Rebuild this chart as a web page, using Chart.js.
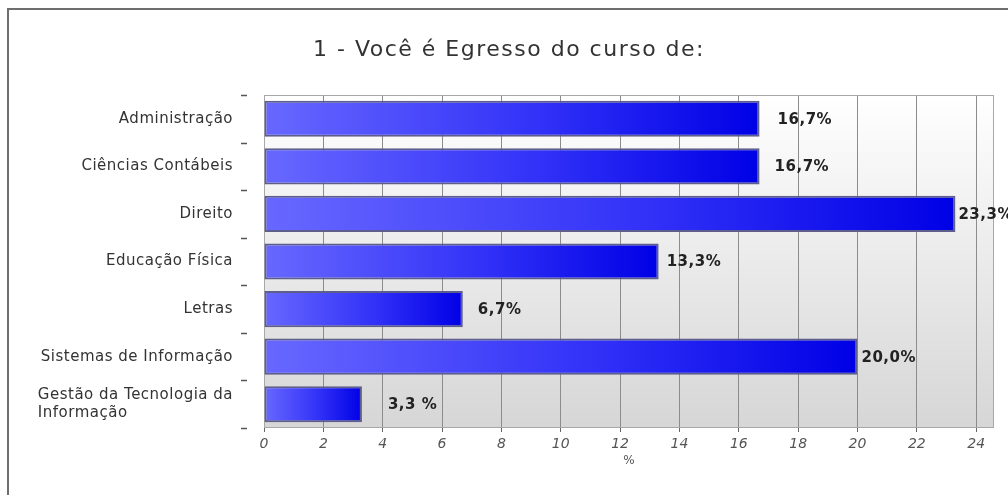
<!DOCTYPE html>
<html lang="pt-BR">
<head>
    <meta charset="UTF-8">
    <title>1 - Você é Egresso do curso de:</title>
    <script src="https://cdn.jsdelivr.net/npm/chart.js"></script>
    <style>
        html, body {
            margin: 0;
            padding: 0;
            background: #fff;
        }
        #wrap {
            width: 1008px;
            height: 495px;
        }
    </style>
</head>
<body>
    <div id="wrap"><canvas id="grafico"></canvas></div>

    <script>
        const tituloGrafico = '1 - Você é Egresso do curso de:';
        const cursos = [
            'Administração',
            'Ciências Contábeis',
            'Direito',
            'Educação Física',
            'Letras',
            'Sistemas de Informação',
            ['Gestão da Tecnologia da', 'Informação']
        ];
        const percentuais = [16.7, 16.7, 23.3, 13.3, 6.7, 20.0, 3.3];
        const rotulosValor = ['16,7%', '16,7%', '23,3%', '13,3%', '6,7%', '20,0%', '3,3 %'];
        const ticksX = [0, 2, 4, 6, 8, 10, 12, 14, 16, 18, 20, 22, 24];

        // distancia (px) entre o fim da barra e o rotulo, como no original
        const folgaRotulo = [18, 15, 3, 8, 15, 4, 26];

        // fundo em degrade + moldura externa + titulo
        const fundoPlugin = {
            id: 'fundo',
            beforeDraw(chart) {
                const { ctx, chartArea: a } = chart;
                ctx.save();
                // moldura externa
                ctx.strokeStyle = '#6e6e6e';
                ctx.lineWidth = 2;
                ctx.beginPath();
                ctx.moveTo(8, 495);
                ctx.lineTo(8, 9);
                ctx.lineTo(1008, 9);
                ctx.stroke();

                const g = ctx.createLinearGradient(0, a.top, 0, a.bottom);
                g.addColorStop(0, '#ffffff');
                g.addColorStop(1, '#d6d6d6');
                ctx.fillStyle = g;
                ctx.fillRect(a.left, a.top, a.right - a.left, a.bottom - a.top);

                // titulo
                ctx.fillStyle = '#333';
                ctx.font = '22px "DejaVu Sans"';
                ctx.letterSpacing = '1.5px';
                ctx.textAlign = 'center';
                ctx.textBaseline = 'middle';
                ctx.fillText(tituloGrafico, 509, 50);
                ctx.restore();
            },
            beforeDatasetsDraw(chart) {
                const { ctx, chartArea: a } = chart;
                ctx.save();
                ctx.strokeStyle = '#a8a8a8';
                ctx.lineWidth = 1;
                ctx.strokeRect(a.left + 0.5, a.top + 0.5, a.right - a.left - 1, a.bottom - a.top - 1);
                ctx.restore();
            }
        };

        // rotulos do eixo Y, tracinhos e valores das barras
        const rotulosPlugin = {
            id: 'rotulos',
            afterDatasetsDraw(chart) {
                const { ctx, chartArea: a } = chart;
                const y = chart.scales.y;
                const x = chart.scales.x;
                const passo = (a.bottom - a.top) / cursos.length;
                ctx.save();

                // tracinhos
                ctx.strokeStyle = '#555';
                ctx.lineWidth = 1.5;
                for (let i = 0; i <= cursos.length; i++) {
                    const yy = Math.round(a.top + i * passo) + 0.5;
                    ctx.beginPath();
                    ctx.moveTo(241, yy);
                    ctx.lineTo(247, yy);
                    ctx.stroke();
                }

                // nomes dos cursos
                ctx.fillStyle = '#333';
                ctx.font = '15px "DejaVu Sans"';
                ctx.letterSpacing = '0.5px';
                ctx.textBaseline = 'middle';
                cursos.forEach((c, i) => {
                    const yc = y.getPixelForValue(i);
                    if (Array.isArray(c)) {
                        const larg = Math.max(...c.map(l => ctx.measureText(l).width));
                        ctx.textAlign = 'left';
                        c.forEach((l, k) => {
                            ctx.fillText(l, 233 - larg, yc + (k - (c.length - 1) / 2) * 18);
                        });
                    } else {
                        ctx.textAlign = 'right';
                        ctx.fillText(c, 233, yc);
                    }
                });

                // valores
                ctx.fillStyle = '#222';
                ctx.font = 'bold 15px "DejaVu Sans"';
                ctx.letterSpacing = '0.5px';
                ctx.textAlign = 'left';
                percentuais.forEach((v, i) => {
                    const xf = x.getPixelForValue(v);
                    const yc = y.getPixelForValue(i);
                    ctx.fillText(rotulosValor[i], xf + folgaRotulo[i], yc + 1);
                });
                ctx.restore();
            }
        };

        function corBarra(context) {
            const chart = context.chart;
            if (!chart.chartArea || context.type !== 'data') {
                return '#2a2aff';
            }
            const x = chart.scales.x;
            const x0 = x.getPixelForValue(0);
            const x1 = x.getPixelForValue(percentuais[context.dataIndex]);
            const g = chart.ctx.createLinearGradient(x0, 0, x1, 0);
            g.addColorStop(0, '#6868ff');
            g.addColorStop(0.55, '#3232f8');
            g.addColorStop(1, '#0000e6');
            return g;
        }

        const ctx = document.getElementById('grafico').getContext('2d');
        new Chart(ctx, {
            type: 'bar',
            data: {
                labels: cursos,
                datasets: [{
                    label: '%',
                    data: percentuais,
                    backgroundColor: corBarra,
                    borderColor: '#5e5e8c',
                    borderWidth: 2,
                    borderSkipped: false,
                    categoryPercentage: 1,
                    barPercentage: 0.76
                }]
            },
            options: {
                indexAxis: 'y',
                responsive: true,
                maintainAspectRatio: false,
                animation: false,
                layout: {
                    padding: { top: 95, right: 14, bottom: 27, left: 0 }
                },
                scales: {
                    x: {
                        min: 0,
                        max: 24.6,
                        afterBuildTicks(scale) {
                            scale.ticks = ticksX.map(v => ({ value: v }));
                        },
                        afterFit(scale) {
                            scale.height = 40;
                        },
                        grid: {
                            color: '#8c8c8c',
                            lineWidth: 1,
                            tickLength: 4,
                            tickColor: '#666'
                        },
                        border: { display: false },
                        ticks: {
                            color: '#555',
                            padding: 4,
                            font: { family: 'DejaVu Sans', size: 14, style: 'italic' }
                        },
                        title: {
                            display: true,
                            text: '%',
                            color: '#555',
                            padding: { top: 1, bottom: 0 },
                            font: { family: 'DejaVu Sans', size: 12 }
                        }
                    },
                    y: {
                        afterFit(scale) {
                            scale.width = 264;
                        },
                        grid: { display: false },
                        border: { display: false },
                        ticks: { display: false }
                    }
                },
                plugins: {
                    legend: { display: false },
                    tooltip: { enabled: false }
                }
            },
            plugins: [fundoPlugin, rotulosPlugin]
        });
    </script>
</body>
</html>
